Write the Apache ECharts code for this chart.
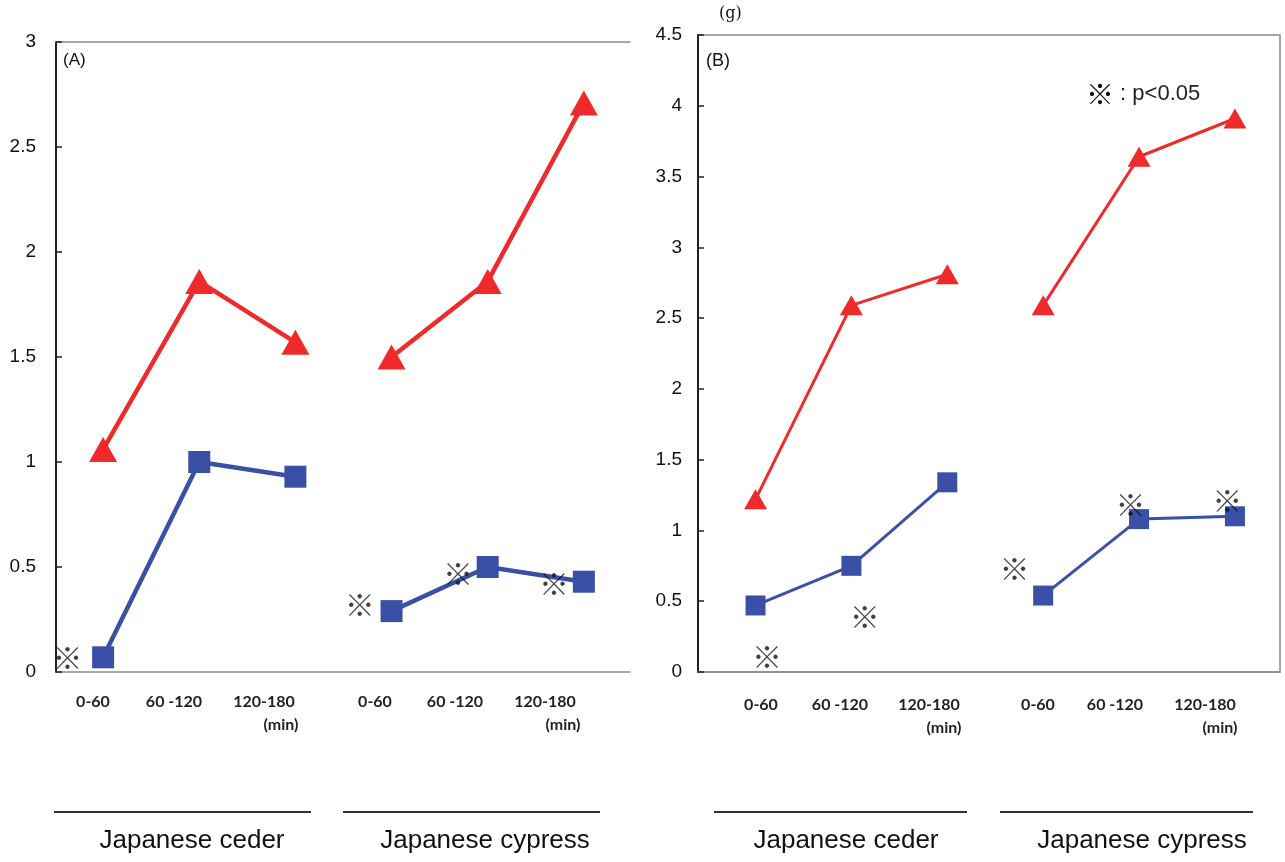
<!DOCTYPE html>
<html>
<head>
<meta charset="utf-8">
<script src="https://cdn.jsdelivr.net/npm/echarts@6/dist/echarts.min.js"></script>
<style>
  html, body { margin: 0; padding: 0; background: #fff; }
  #chart { width: 1285px; height: 862px; }
</style>
</head>
<body>
<div id="chart"></div>
<script>
// x labels under each group, and the two species
const timeLabels = ['0-60', '60 -120', '120-180'];
const speciesLabels = ['Japanese ceder', 'Japanese cypress'];

// panel (A): values for the 6 time slots (3 ceder + 3 cypress)
const redA = [1.06, 1.86, 1.57, 1.50, 1.86, 2.71];
const blueA = [0.07, 1.00, 0.93, 0.29, 0.50, 0.43];
// panel (B)
const redB = [1.22, 2.59, 2.81, 2.59, 3.64, 3.91];
const blueB = [0.47, 0.75, 1.34, 0.54, 1.08, 1.10];

// ※ marks (x in slot units, y in axis units)
const marksA = [[-0.37, 0.07], [2.67, 0.32], [3.69, 0.47], [4.69, 0.42]];
const marksB = [[0.12, 0.11], [1.14, 0.39], [2.70, 0.73], [3.91, 1.18], [4.92, 1.21]];

const RED = '#ee2a2a';
const BLUE = '#3a50a6';

function pairs(vals, from, to) {
  const out = [];
  for (let i = from; i < to; i++) out.push([i, vals[i]]);
  return out;
}

function lineSeries(vals, from, xi, yi, color, symbol, size, width) {
  return {
    type: 'line',
    xAxisIndex: xi,
    yAxisIndex: yi,
    data: pairs(vals, from, from + 3),
    symbol: symbol,
    symbolSize: size,
    lineStyle: { color: color, width: width },
    itemStyle: { color: color },
    animation: false,
    z: 3
  };
}

function markSeries(data, xi, yi) {
  return {
    type: 'scatter',
    xAxisIndex: xi,
    yAxisIndex: yi,
    data: data,
    symbolSize: 1,
    itemStyle: { color: 'rgba(0,0,0,0)' },
    label: {
      show: true,
      position: 'inside',
      formatter: '※',
      fontSize: 30,
      color: '#111',
      fontFamily: 'Noto Sans CJK JP'
    },
    animation: false,
    z: 5
  };
}

const yLabel = { fontSize: 19, color: '#111', fontFamily: 'Liberation Sans' };

let chart = echarts.init(document.getElementById('chart'));

// label texts below the axes
const graphics = [];
const xlab = [
  { y: 702, xs: [93, 174, 264], min: 281 },
  { y: 702, xs: [375, 455, 545], min: 563 },
  { y: 705, xs: [761, 840, 929], min: 944 },
  { y: 705, xs: [1038, 1115, 1205], min: 1220 }
];
xlab.forEach(g => {
  timeLabels.forEach((t, i) => {
    graphics.push({
      type: 'text', x: g.xs[i], y: g.y,
      style: { text: t, fontSize: 16, fontFamily: 'Lato', fontWeight: 'bold', fill: '#222', align: 'center', verticalAlign: 'middle' }
    });
  });
  graphics.push({
    type: 'text', x: g.min, y: g.y + 23,
    style: { text: '(min)', fontSize: 16, fontFamily: 'Lato', fontWeight: 'bold', fill: '#222', align: 'center', verticalAlign: 'middle' }
  });
});
const groups = [
  { x1: 54, x2: 311, cx: 192 },
  { x1: 343, x2: 600, cx: 485 },
  { x1: 714, x2: 967, cx: 846 },
  { x1: 1000, x2: 1253, cx: 1142 }
];
groups.forEach((g, i) => {
  graphics.push({
    type: 'line', shape: { x1: g.x1, y1: 812, x2: g.x2, y2: 812 },
    style: { stroke: '#333', lineWidth: 2 }
  });
  graphics.push({
    type: 'text', x: g.cx, y: 841,
    style: { text: speciesLabels[i % 2], fontSize: 26, fontFamily: 'Liberation Sans', fill: '#111', align: 'center', verticalAlign: 'middle' }
  });
});
graphics.push(
  { type: 'text', x: 63, y: 60, style: { text: '(A)', fontSize: 17, fontFamily: 'Liberation Sans', fill: '#111', verticalAlign: 'middle' } },
  { type: 'text', x: 706, y: 61, style: { text: '(B)', fontSize: 18, fontFamily: 'Liberation Sans', fill: '#111', verticalAlign: 'middle' } },
  { type: 'text', x: 719, y: 14, style: { text: '(g)', fontSize: 16, fontFamily: 'DejaVu Serif', fill: '#111', verticalAlign: 'middle' } },
  { type: 'text', x: 1086, y: 94, style: {
      text: '{m|※}{t| : p<0.05}',
      verticalAlign: 'middle',
      rich: {
        m: { fontSize: 28, fontFamily: 'Noto Sans CJK JP', fill: '#111' },
        t: { fontSize: 22, fontFamily: 'Liberation Sans', fill: '#222' }
      }
  } }
);

chart.setOption({
  backgroundColor: '#fff',
  animation: false,
  grid: [
    { left: 56, top: 42, right: 655, bottom: 190 },
    { left: 698, top: 35, right: 5, bottom: 190, show: true, borderColor: '#8a8a8a', borderWidth: 1.5 }
  ],
  xAxis: [
    { gridIndex: 0, type: 'value', min: -0.49, max: 5.48, axisLine: { lineStyle: { color: '#8a8a8a', width: 1.5 } }, axisTick: { show: false }, axisLabel: { show: false }, splitLine: { show: false } },
    { gridIndex: 0, type: 'value', position: 'top', min: -0.49, max: 5.48, axisLine: { lineStyle: { color: '#8a8a8a', width: 1.5 } }, axisTick: { show: false }, axisLabel: { show: false }, splitLine: { show: false } },
    { gridIndex: 1, type: 'value', min: -0.6, max: 5.47, axisLine: { lineStyle: { color: '#8a8a8a', width: 1.5 } }, axisTick: { show: false }, axisLabel: { show: false }, splitLine: { show: false } }
  ],
  yAxis: [
    { gridIndex: 0, type: 'value', min: 0, max: 3, interval: 0.5,
      axisLine: { show: true, onZero: false, lineStyle: { color: '#222', width: 2 } },
      axisTick: { show: true, inside: true, length: 6, lineStyle: { color: '#222', width: 1.5 } },
      axisLabel: Object.assign({ margin: 20 }, yLabel), splitLine: { show: false } },
    { gridIndex: 1, type: 'value', min: 0, max: 4.5, interval: 0.5,
      axisLine: { show: true, onZero: false, lineStyle: { color: '#222', width: 2 } },
      axisTick: { show: true, inside: true, length: 6, lineStyle: { color: '#222', width: 1.5 } },
      axisLabel: Object.assign({ margin: 16 }, yLabel), splitLine: { show: false } }
  ],
  series: [
    lineSeries(redA, 0, 0, 0, RED, 'triangle', [28, 25], 4.5),
    lineSeries(redA, 3, 0, 0, RED, 'triangle', [28, 25], 4.5),
    lineSeries(blueA, 0, 0, 0, BLUE, 'rect', 22, 4.5),
    lineSeries(blueA, 3, 0, 0, BLUE, 'rect', 22, 4.5),
    markSeries(marksA, 0, 0),
    lineSeries(redB, 0, 2, 1, RED, 'triangle', [23, 20], 3),
    lineSeries(redB, 3, 2, 1, RED, 'triangle', [23, 20], 3),
    lineSeries(blueB, 0, 2, 1, BLUE, 'rect', 20, 3),
    lineSeries(blueB, 3, 2, 1, BLUE, 'rect', 20, 3),
    markSeries(marksB, 2, 1)
  ],
  graphic: graphics
});
</script>
</body>
</html>
